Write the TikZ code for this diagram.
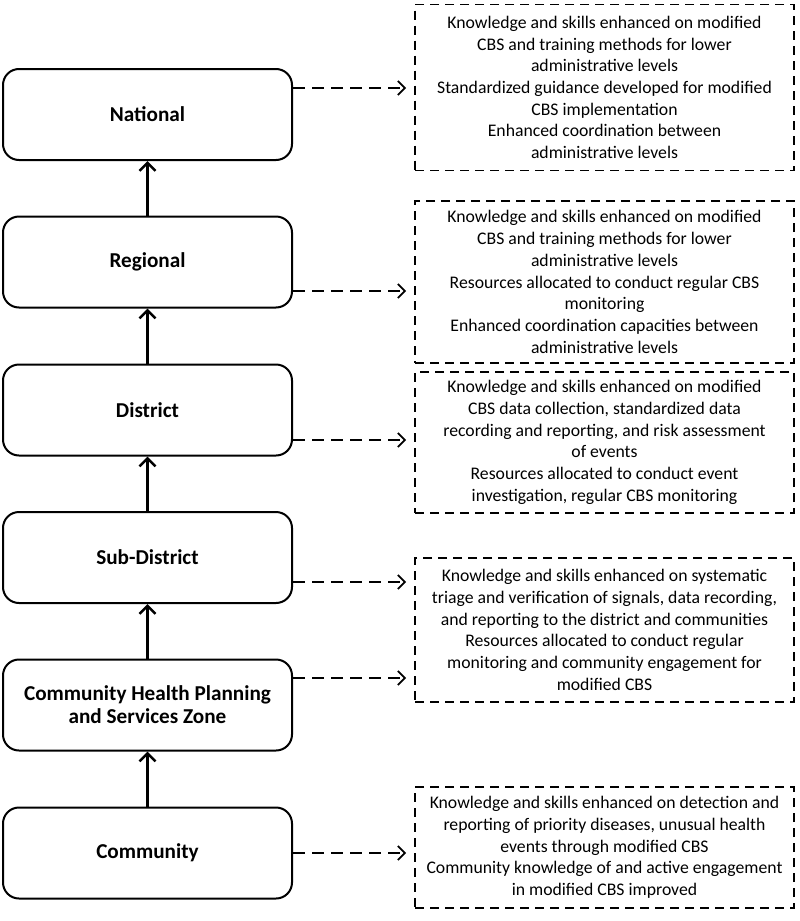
\documentclass[tikz,border=0pt]{standalone}
\usepackage{fontspec}
\setmainfont{Carlito}
\usetikzlibrary{arrows.meta}
\begin{document}
\begin{tikzpicture}[x=1pt,y=-1pt,
  level/.style={draw, line width=2pt, rounded corners=16pt, minimum width=289pt, minimum height=91pt,
    inner sep=2pt, align=center, font=\fontsize{21.2}{23}\selectfont\bfseries},
  outcome/.style={draw, line width=1.8pt, dash pattern=on 9pt off 6pt, minimum width=379pt,
    inner sep=2pt, align=center, font=\fontsize{17.7}{21.7}\selectfont},
  uparr/.style={line width=2.5pt, -{Straight Barb[length=8pt, width=16pt, line width=2.5pt]}},
  darr/.style={line width=1.8pt, dash pattern=on 12pt off 7pt, shorten >=8pt,
    -{Straight Barb[length=7pt, width=14pt, line width=1.8pt]}}
]
\useasboundingbox (0,0) rectangle (800,921);

% left column
\node[level] (nat) at (147.5,114.5) {National};
\node[level] (reg) at (147.5,262) {Regional};
\node[level] (dis) at (147.5,410) {District};
\node[level] (sub) at (147.5,557.5) {Sub-District};
\node[level] (chp) at (147.5,705) {Community Health Planning\\and Services Zone};
\node[level] (com) at (147.5,853) {Community};

% right column
\node[outcome, minimum height=166pt] (r1) at (604.5,87.5) {Knowledge and skills enhanced on modified\\CBS and training methods for lower\\administrative levels\\Standardized guidance developed for modified\\CBS implementation\\Enhanced coordination between\\administrative levels};
\node[outcome, minimum height=162pt] (r2) at (604.5,282) {Knowledge and skills enhanced on modified\\CBS and training methods for lower\\administrative levels\\Resources allocated to conduct regular CBS\\monitoring\\Enhanced coordination capacities between\\administrative levels};
\node[outcome, minimum height=141pt] (r3) at (604.5,442.5) {Knowledge and skills enhanced on modified\\CBS data collection, standardized data\\recording and reporting, and risk assessment\\of events\\Resources allocated to conduct event\\investigation, regular CBS monitoring};
\node[outcome, minimum height=144pt] (r4) at (604.5,630) {Knowledge and skills enhanced on systematic\\triage and verification of signals, data recording,\\and reporting to the district and communities\\Resources allocated to conduct regular\\monitoring and community engagement for\\modified CBS};
\node[outcome, minimum height=121pt] (r5) at (604.5,847.5) {Knowledge and skills enhanced on detection and\\reporting of priority diseases, unusual health\\events through modified CBS\\Community knowledge of and active engagement\\in modified CBS improved};

% vertical arrows
\draw[uparr] (reg.north) -- (nat.south);
\draw[uparr] (dis.north) -- (reg.south);
\draw[uparr] (sub.north) -- (dis.south);
\draw[uparr] (chp.north) -- (sub.south);
\draw[uparr] (com.north) -- (chp.south);

% dashed arrows
\draw[darr] ([yshift=26.5pt]nat.east) -- ([yshift=26.5pt]nat.east -| r1.west);
\draw[darr] ([yshift=-29pt]reg.east) -- ([yshift=-29pt]reg.east -| r2.west);
\draw[darr] ([yshift=-30pt]dis.east) -- ([yshift=-30pt]dis.east -| r3.west);
\draw[darr] ([yshift=-24.5pt]sub.east) -- ([yshift=-24.5pt]sub.east -| r4.west);
\draw[darr] ([yshift=27pt]chp.east) -- ([yshift=27pt]chp.east -| r4.west);
\draw[darr] (com.east) -- (com.east -| r5.west);
\end{tikzpicture}
\end{document}
